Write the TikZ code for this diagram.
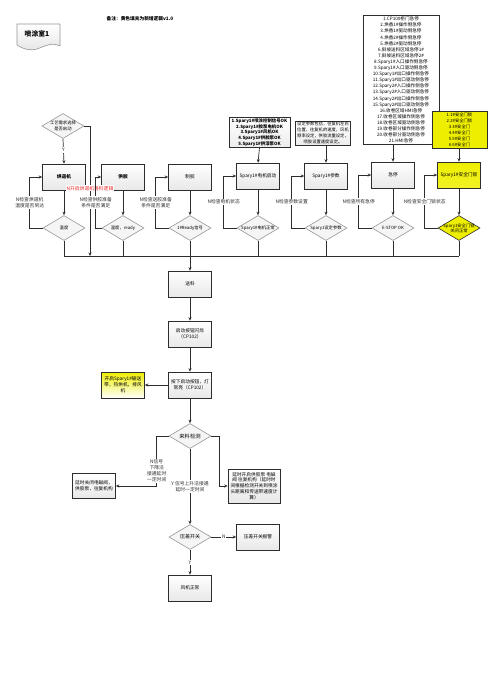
\documentclass[tikz,border=0pt]{standalone}
\usepackage{fontspec}
\newfontfamily\cjk{Noto Sans CJK SC}
\usetikzlibrary{arrows.meta,shapes.geometric,positioning,calc}
\definecolor{hiyel}{RGB}{238,238,0}
\definecolor{wire}{RGB}{45,45,45}
\definecolor{rim}{RGB}{150,150,150}
\definecolor{alarm}{RGB}{235,40,40}
\newcommand{\sz}[2]{\fontsize{#1}{#2}\selectfont}

\begin{document}
\begin{tikzpicture}[x=1pt,y=-1pt,
  font={\cjk\sz{4.7}{5.8}},
  box/.style={draw=wire,line width=.6pt,top color=white,bottom color=gray!18,
    minimum width=43pt,minimum height=26pt,inner sep=1pt,align=center},
  ybox/.style={box,top color=hiyel,bottom color=hiyel!85!white},
  dec/.style={diamond,draw=rim,line width=.6pt,fill=gray!8,
    minimum width=42pt,minimum height=25pt,inner sep=0pt},
  ydec/.style={dec,draw=wire,fill=hiyel},
  dtxt/.style={align=center,inner sep=0pt,font={\cjk\sz{4.3}{5.3}}},
  lst/.style={draw=wire,line width=.6pt,fill=white,align=center,inner sep=1.5pt},
  flow/.style={-{Stealth[length=3.5pt,width=3pt]},line width=.7pt,wire},
  link/.style={line width=.7pt,wire},
  lbl/.style={fill=white,inner sep=.8pt,align=center,font={\cjk\sz{4.8}{6}}}]
\fill[white] (0,0) rectangle (503,678);
\useasboundingbox (0,0) rectangle (503,678);

% title and memo
\draw[draw=rim,line width=.6pt,top color=white,bottom color=gray!20]
  (17,24) -- (60,24) -- (60,46) .. controls (52,42) and (45,46) .. (37,49)
  .. controls (29,51) and (23,49) .. (17,45) -- cycle;
\node[font={\cjk\bfseries\sz{6.8}{8}}] (room) at (37,34) {喷涂室1};
\node[font={\cjk\bfseries\sz{4.7}{5.8}}] (memo) at (140,19) {备注：黄色填充为新增逻辑v1.0};

% condition lists
\node[lst,minimum width=76pt,font={\cjk\sz{4.6}{6.1}}] (elist) at (401,80)
  {1.CP100柜门急停\\2.烘香1\#操作侧急停\\3.烘香1\#驱动侧急停\\4.烘香2\#操作侧急停\\
   5.烘香2\#驱动侧急停\\6.斜坡送料区域急停1\#\\7.斜坡送料区域急停2\#\\
   8.Spary1\#入口操作侧急停\\9.Spary1\#入口驱动侧急停\\10.Spary1\#出口操作侧急停\\
   11.Spary1\#出口驱动侧急停\\12.Spary2\#入口操作侧急停\\13.Spary2\#入口驱动侧急停\\
   14.Spary2\#出口操作侧急停\\15.Spary2\#出口驱动侧急停\\16.收卷区域HMI急停\\
   17.收卷区域操作侧急停\\18.收卷区域驱动侧急停\\19.收卷部分操作侧急停\\
   20.收卷部分驱动侧急停\\21.HMI急停};
\node[lst,fill=hiyel,minimum width=55pt,font={\cjk\sz{4.3}{6}}] (ylist) at (459.5,129.5)
  {1.1\#安全门锁\\2.2\#安全门锁\\3.3\#安全门\\4.4\#安全门\\5.5\#安全门\\6.6\#安全门};
\node[lst,top color=white,bottom color=gray!15,minimum width=61pt,
  font={\cjk\bfseries\sz{4.4}{5.6}}] (slist) at (259.5,132.5)
  {1.Spary1\#喷涂控制信号OK\\2.Spary1\#胶泵电机OK\\3.Spary1\#风机OK\\
   4.Spary1\#供胶泵OK\\5.Spary1\#供漆泵OK};
\node[lst,top color=white,bottom color=gray!15,minimum width=53pt,
  font={\cjk\sz{4.3}{5.8}}] (para) at (323,133)
  {设定参数包括，往复机左右\\位置，往复机的速度，风机\\频率设定，供胶流量设定，\\喷胶设置速度设定。};

% start check
\node[dec] (gy) at (63,126) {};
\node[dtxt] (gyt) at (gy) {工艺需求选择\\是否启动};

% row of preconditions
\node[box] (hd) at (64,177) {\textbf{烘道机}};
\node[box] (gj) at (123,177) {\textbf{供胶}};
\node[box] (zj) at (190,177) {制胶};
\node[box] (dj) at (258,176) {Spary1\#电机启动};
\node[box] (cs) at (326,176) {Spary1\#参数};
\node[box] (jt) at (393,175) {急停};
\node[ybox] (aq) at (459,175) {Spary1\#安全门锁};

\node[dec] (d1) at (64,228) {};
\node[dtxt] (t1) at (d1) {温度};
\node[dec] (d2) at (123,228) {};
\node[dtxt] (t2) at (d2) {温度，ready};
\node[dec] (d3) at (190,228) {};
\node[dtxt] (t3) at (d3) {1\#Ready信号};
\node[dec] (d4) at (258,228) {};
\node[dtxt] (t4) at (d4) {Spary1\#电机正常};
\node[dec] (d5) at (326,228) {};
\node[dtxt] (t5) at (d5) {Spary1设定参数};
\node[dec] (d6) at (393,228) {};
\node[dtxt] (t6) at (d6) {E-STOP OK};
\node[ydec] (d7) at (459,228) {};
\node[dtxt] (t7) at (d7) {Spary1安全门锁\\关闭正常};

\coordinate (busL) at (64,256);
\coordinate (busR) at (459,256);
\coordinate (skip) at (90,256);

% main chain
\node[box] (sl) at (190,284) {送料};
\node[box] (qd) at (190,334) {启动按钮闪烁\\（CP102）};
\node[box] (ax) at (190,385) {按下启动按钮，灯\\常亮（CP102）};
\node[box,top color=hiyel,bottom color=white] (kq) at (123,385)
  {开启Spary1\#输送\\带，热烘机，排风\\机};
\node[dec] (ll) at (190,436) {};
\node[dtxt,font={\cjk\sz{5.3}{6}}] (llt) at (ll) {来料检测};
\node[box,minimum height=25pt] (gb) at (94,486) {延时关闭电磁阀，\\供胶泵，往复机构};
\node[box,minimum width=52pt,minimum height=34pt] (kk) at (254,486)
  {延时开启供胶泵 电磁\\阀 往复机构（延时时\\间根据检测开关到喷涂\\头距离和传送带速度计\\算）};
\node[dec] (yc) at (190,537) {};
\node[dtxt,font={\cjk\sz{5}{6}}] (yct) at (yc) {压差开关};
\node[box] (bj) at (258,537) {压差开关报警};
\node[box] (fj) at (190,588) {风机正常};

% connectors, top part
\draw[flow] (gy.south) -- (hd.north) node[lbl,pos=.45] (gyY) {Y};
\draw[flow] (gy.east) -| (skip)
  node[lbl,pos=.74,text=alarm] (gyN) {N开启烘道机进料逻辑};
\draw[flow] (slist.south) -- (dj.north);
\draw[flow] (cs |- para.south) -- (cs.north);
\draw[flow] (jt |- elist.south) -- (jt.north);
\draw[flow] (aq |- ylist.south) -- (aq.north);

\draw[flow] (hd) -- (d1);
\draw[flow] (gj) -- (d2);
\draw[flow] (zj) -- (d3);
\draw[flow] (dj) -- (d4);
\draw[flow] (cs) -- (d5);
\draw[flow] (jt) -- (d6);
\draw[flow] (aq) -- (d7);

\draw[flow] (d1.west) -- ++(-13,0) |- (hd.west)
  node[lbl,pos=.25] (n1) {N检查烘道机\\温度是否到达};
\draw[flow] (d2.west) -- ++(-6,0) |- (gj.west)
  node[lbl,pos=.25] (n2) {N检查供胶准备\\条件是否满足};
\draw[flow] (d3.west) -- ++(-13,0) |- (zj.west)
  node[lbl,pos=.25] (n3) {N检查送胶准备\\条件是否满足};
\draw[flow] (d4.west) -- ++(-13,0) |- (dj.west)
  node[lbl,pos=.25] (n4) {N检查电机状态};
\draw[flow] (d5.west) -- ++(-13,0) |- (cs.west)
  node[lbl,pos=.25] (n5) {N检查参数设置};
\draw[flow] (d6.west) -- ++(-13,0) |- (jt.west)
  node[lbl,pos=.25] (n6) {N检查所有急停};
\draw[flow] (d7.west) -- ++(-13,0) |- (aq.west)
  node[lbl,pos=.25] (n7) {N检查安全门锁状态};

% collect to main chain
\draw[link] (busL) -- (busR);
\draw[link] (d1.south) -- (d1.south |- busL);
\draw[link] (d2.south) -- (d2.south |- busL);
\draw[link] (d4.south) -- (d4.south |- busL);
\draw[link] (d5.south) -- (d5.south |- busL);
\draw[link] (d6.south) -- (d6.south |- busL);
\draw[link] (d7.south) -- (d7.south |- busL);
\draw[flow] (d3.south) -- (sl.north);

% connectors, main chain
\draw[flow] (sl) -- (qd);
\draw[flow] (qd) -- (ax);
\draw[flow] (ax) -- (kq);
\draw[flow] (ax) -- (ll);
\draw[flow] (ll.west) -- ++(-12,0) |- (gb.east)
  node[lbl,pos=.35] (nsig) {N信号\\下降沿\\接通延时\\一定时间};
\draw[flow] (ll.east) -- ++(8,0) |- (kk.west);
\draw[flow] (ll.south) -- (yc.north)
  node[lbl,midway] (ysig) {Y 信号上升沿接通\\延时一定时间};
\draw[flow] (yc.east) -- (bj.west) node[lbl,midway] (ycN) {N};
\draw[flow] (yc.south) -- (fj.north) node[lbl,midway] (ycY) {Y};
\end{tikzpicture}
\end{document}
